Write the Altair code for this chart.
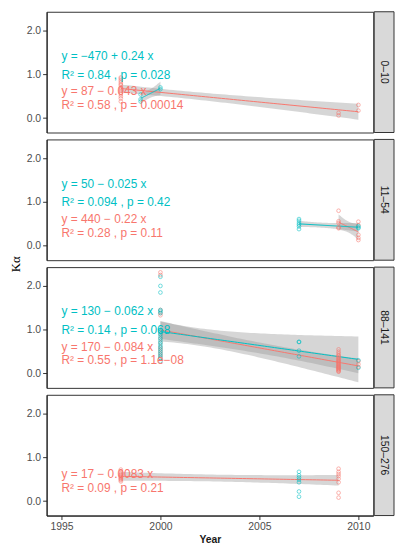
import altair as alt
import numpy as np
import pandas as pd

RED = "#F8766D"
TEAL = "#00BFC4"

panels = ["0–10", "11–54", "88–141", "150–276"]
x_ticks = [1995, 2000, 2005, 2010]
y_ticks = [0.0, 0.5, 1.0, 1.5, 2.0]

# panel 0–10
p1_red_years = [1998] * 14 + [2009, 2009, 2010, 2010]
p1_red_ka = [0.93, 0.90, 0.86, 0.82, 0.78, 0.75, 0.70, 0.66, 0.62, 0.58, 0.55, 0.50, 0.45, 0.38,
             0.12, 0.06, 0.30, 0.17]
p1_teal_years = [1999, 1999, 1999, 2000, 2000]
p1_teal_ka = [0.38, 0.43, 0.54, 0.66, 0.70]

# panel 11–54
p2_red_years = [2009] * 5 + [2010] * 5
p2_red_ka = [0.80, 0.56, 0.52, 0.42, 0.40, 0.55, 0.47, 0.25, 0.18, 0.13]
p2_teal_years = [2007] * 6 + [2010] * 3
p2_teal_ka = [0.61, 0.57, 0.52, 0.48, 0.44, 0.38, 0.45, 0.42, 0.40]

# panel 88–141
p3_red_years = [2000] * 15 + [2009] * 24 + [2010] * 3
p3_red_ka = [2.31, 2.25, 1.45, 1.38, 1.33, 0.95, 0.90, 0.80, 0.70, 0.60, 0.55, 0.50, 0.45, 0.40, 0.35,
             0.55, 0.50, 0.46, 0.42, 0.40, 0.37, 0.35, 0.32, 0.30, 0.28, 0.26, 0.24,
             0.22, 0.20, 0.18, 0.16, 0.15, 0.13, 0.12, 0.10, 0.09, 0.07, 0.05, 0.04,
             0.28, 0.21, 0.15]
p3_teal_years = [2000] * 21 + [2007] * 4 + [2010] * 2
p3_teal_ka = [2.21, 2.00, 1.85, 1.45, 1.42, 1.38, 1.00, 0.95, 0.90, 0.85, 0.80,
              0.75, 0.70, 0.65, 0.60, 0.55, 0.50, 0.45, 0.40, 0.35, 0.28,
              0.72, 0.72, 0.52, 0.39, 0.30, 0.13]

# panel 150–276
p4_red_years = [1998] * 11 + [2009] * 8
p4_red_ka = [0.72, 0.66, 0.62, 0.60, 0.58, 0.56, 0.54, 0.52, 0.50, 0.48, 0.45,
             0.74, 0.67, 0.62, 0.57, 0.51, 0.43, 0.19, 0.08]
p4_teal_years = [2007] * 7
p4_teal_ka = [0.67, 0.59, 0.54, 0.49, 0.43, 0.22, 0.10]

# equation labels (panel, group, text, y)
label_panel = [0, 0, 0, 0, 1, 1, 1, 1, 2, 2, 2, 2, 3, 3]
label_group = ["B", "B", "A", "A"] * 3 + ["A", "A"]
label_text = [
    "y = −470 + 0.24 x", "R² = 0.84 , p = 0.028",
    "y = 87 − 0.043 x", "R² = 0.58 , p = 0.00014",
    "y = 50 − 0.025 x", "R² = 0.094 , p = 0.42",
    "y = 440 − 0.22 x", "R² = 0.28 , p = 0.11",
    "y = 130 − 0.062 x", "R² = 0.14 , p = 0.068",
    "y = 170 − 0.084 x", "R² = 0.55 , p = 1.1e−08",
    "y = 17 − 0.0083 x", "R² = 0.09 , p = 0.21",
]
label_y = [1.42, 0.99, 0.61, 0.30] * 3 + [0.61, 0.29]
label_x = 1995

series = [
    (0, "A", p1_red_years, p1_red_ka), (0, "B", p1_teal_years, p1_teal_ka),
    (1, "A", p2_red_years, p2_red_ka), (1, "B", p2_teal_years, p2_teal_ka),
    (2, "A", p3_red_years, p3_red_ka), (2, "B", p3_teal_years, p3_teal_ka),
    (3, "A", p4_red_years, p4_red_ka), (3, "B", p4_teal_years, p4_teal_ka),
]


def t975(df):
    z = 1.959964
    return (z + (z**3 + z) / (4 * df) + (5 * z**5 + 16 * z**3 + 3 * z) / (96 * df**2)
            + (3 * z**7 + 19 * z**5 + 17 * z**3 - 15 * z) / (384 * df**3))


point_rows, band_rows = [], []
for p, g, yrs, ka in series:
    for a, b in zip(yrs, ka):
        point_rows.append({"panel": p, "group": g, "year": a, "ka": b})
    x = np.asarray(yrs, float)
    y = np.asarray(ka, float)
    if len(np.unique(x)) < 2:
        continue
    # linear fit with 95% confidence band, like geom_smooth(method = "lm")
    b1, b0 = np.polyfit(x, y, 1)
    res = y - (b0 + b1 * x)
    dof = len(x) - 2
    s = np.sqrt(res @ res / dof)
    grid = np.linspace(x.min(), x.max(), 60)
    se = s * np.sqrt(1 / len(x) + (grid - x.mean()) ** 2 / ((x - x.mean()) ** 2).sum())
    fit = b0 + b1 * grid
    t = t975(dof)
    for gx, f, e in zip(grid, fit, se):
        band_rows.append({"panel": p, "group": g, "year": gx, "ka": f - t * e,
                          "ka2": f + t * e, "fit": f})

points = pd.DataFrame(point_rows)
bands = pd.DataFrame(band_rows)
labels = pd.DataFrame({"panel": label_panel, "group": label_group, "text": label_text,
                       "ka": label_y, "year": label_x})

W, H, GAP, STRIP_W = 330, 122, 7, 20
x_scale = alt.Scale(domain=[1994.25, 2010.75], nice=False, zero=False)
y_scale = alt.Scale(domain=[-0.33, 2.43], nice=False, zero=False)
color = alt.Color("group:N", scale=alt.Scale(domain=["A", "B"], range=[RED, TEAL]), legend=None)


def x_enc(bottom):
    if bottom:
        ax = alt.Axis(values=x_ticks, format="d", title="Year", titleFontWeight="bold",
                      titleFontSize=10.5, titleColor="#1a1a1a", titlePadding=3)
    else:
        ax = None
    return alt.X("year:Q", scale=x_scale, axis=ax)


def y_enc(i):
    return alt.Y("ka:Q", scale=y_scale,
                 axis=alt.Axis(values=y_ticks, format=".1f", title="Kα",
                               titleOpacity=1 if i == 1 else 0, titleY=H + GAP / 2,
                               titleFont="Liberation Serif", titleFontSize=13,
                               titleFontWeight="normal", titleColor="black", titlePadding=4))


rows = []
for i, name in enumerate(panels):
    bottom = i == len(panels) - 1
    bd = bands[bands.panel == i]
    band = alt.Chart(bd).mark_area(color="#999999", opacity=0.4).encode(
        x=x_enc(bottom), y=y_enc(i), y2="ka2:Q", detail="group:N")
    line = alt.Chart(bd).mark_line(strokeWidth=1).encode(
        x=x_enc(bottom), y=alt.Y("fit:Q", scale=y_scale), color=color, detail="group:N")
    pts = alt.Chart(points[points.panel == i]).mark_point(
        filled=False, size=14, strokeWidth=0.8).encode(x=x_enc(bottom), y=y_enc(i), color=color)
    txt = alt.Chart(labels[labels.panel == i]).mark_text(
        align="left", baseline="middle", fontSize=12, font="Liberation Sans").encode(
        x=x_enc(bottom), y=y_enc(i), text="text:N", color=color)
    # grey facet strip on the right of the panel
    strip_df = pd.DataFrame({"label": [name]})
    strip_box = alt.Chart(strip_df).mark_rect(
        fill="#d9d9d9", stroke="#333333", strokeWidth=1).encode(
        x=alt.value(W + 1), x2=alt.value(W + 1 + STRIP_W), y=alt.value(0), y2=alt.value(H))
    strip_txt = alt.Chart(strip_df).mark_text(
        angle=90, fontSize=10.5, font="Liberation Sans", color="#1a1a1a").encode(
        text="label:N", x=alt.value(W + 1 + STRIP_W / 2), y=alt.value(H / 2))
    panel = alt.layer(band, line, pts, txt, strip_box, strip_txt).properties(width=W, height=H)
    rows.append(panel)

chart = alt.vconcat(*rows, spacing=GAP, bounds="flush").properties(
    padding=0
).configure_view(
    stroke="#333333", strokeWidth=1
).configure_axis(
    labelFont="Liberation Sans", labelFontSize=10.5, labelColor="#4d4d4d",
    tickColor="#333333", tickSize=4, labelPadding=2,
    domainColor="#1a1a1a", domainWidth=1, grid=False, titleFont="Liberation Sans"
)

chart.save("out.html", embed_options={"renderer": "svg", "actions": False})
